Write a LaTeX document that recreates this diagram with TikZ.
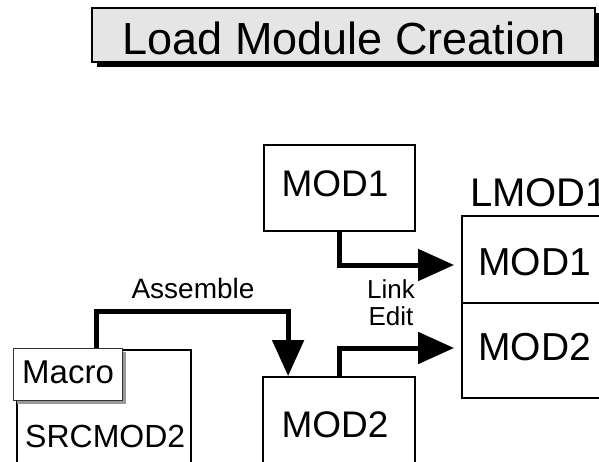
\documentclass[tikz,border=0pt]{standalone}
\usepackage{fontspec}
\setmainfont{Liberation Sans}
\usetikzlibrary{arrows.meta,calc}
\begin{document}
\begin{tikzpicture}[x=1pt,y=-1pt,
  box/.style={draw=black,line width=1.8pt,fill=white,inner sep=0pt},
  conn/.style={line width=5pt,-{Triangle[length=36pt,width=31pt]}},
  txt/.style={inner sep=0pt,anchor=base},
  txtl/.style={inner sep=0pt,anchor=base west}]
\useasboundingbox (0,0) rectangle (599,462);
\clip (0,0) rectangle (599,462);
% title
\fill[black] (97,13) rectangle (600,67);
\node[box,fill=black!10,minimum width=503pt,minimum height=54pt] (title) at (343.5,35) {};
\node[txt,font=\fontsize{45}{54}\selectfont] (titletext) at (344,55) {Load Module Creation};
% MOD1
\node[box,minimum width=151pt,minimum height=86pt] (mod1) at (339.5,188) {};
\node[txt,font=\fontsize{37}{44}\selectfont] (mod1text) at (335,197) {MOD1};
% MOD2
\node[box,minimum width=152pt,minimum height=123pt] (mod2) at (339,438.5) {};
\node[txt,font=\fontsize{37}{44}\selectfont] (mod2text) at (335,437) {MOD2};
% LMOD1
\node[box,minimum width=178pt,minimum height=87pt] (lmod1) at (551,259.5) {};
\node[box,minimum width=178pt,minimum height=95pt] (lmod2) at (551,350.5) {};
\node[txtl,font=\fontsize{40}{48}\selectfont] (lmodtext) at (470,207) {LMOD1};
\node[txtl,font=\fontsize{39}{47}\selectfont] (lmod1text) at (478,275) {MOD1};
\node[txtl,font=\fontsize{39}{47}\selectfont] (lmod2text) at (478,360) {MOD2};
% SRCMOD2
\node[box,minimum width=174pt,minimum height=150pt] (src) at (104,425) {};
\node[txtl,font=\fontsize{32}{38}\selectfont] (srctext) at (25,447) {SRCMOD2};
% Macro
\fill[black!40] (17,352) rectangle (126,404);
\node[box,draw=black!80,line width=0.9pt,minimum width=109pt,minimum height=52pt] (macro) at (67.5,374) {};
\node[txtl,font=\fontsize{33}{40}\selectfont] (macrotext) at (22,383) {Macro};
% connectors
\draw[conn] ($(macro.north west)+(84,0)$) -- ++(0,-36) -| ($(mod2.north west)+(26,0)$);
\draw[conn] ($(mod1.south west)+(76,0)$) |- ($(lmod1.west)+(-7,5.5)$);
\draw[conn] ($(mod2.north west)+(77,0)$) |- ($(lmod2.west)+(-7,-2.5)$);
% labels
\node[txt,font=\fontsize{28}{34}\selectfont] (asm) at (193,298) {Assemble};
\node[txt,font=\fontsize{26}{31}\selectfont] (link) at (391,298) {Link};
\node[txt,font=\fontsize{26}{31}\selectfont] (edit) at (391,325) {Edit};
\end{tikzpicture}
\end{document}
